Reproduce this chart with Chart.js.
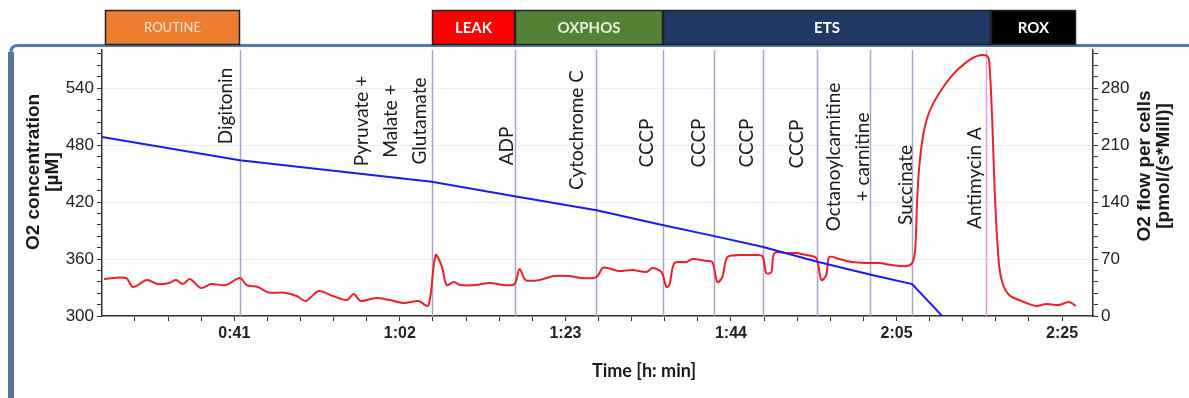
<!DOCTYPE html>
<html><head><meta charset="utf-8">
<script src="https://cdn.jsdelivr.net/npm/chart.js@4.4.1/dist/chart.umd.min.js"></script>
<style>html,body{margin:0;padding:0;background:#fff;overflow:hidden}canvas{display:block}</style>
</head><body>
<canvas id="c" width="1189" height="398"></canvas>
<script>
// ---------- data ----------
const blueTimes  = [24.3, 41.7, 65.91, 76.38, 86.72, 95.04, 101.6, 107.65, 114.6, 121.5, 126.57, 130.6];
const blueValues = [488.5, 464.0, 441.2, 426.1, 411.4, 395.7, 384.1, 372.8, 357.1, 343.1, 333.6, 297.9];

const redTimes = [24.55, 27.33, 28.21, 29.97, 31.36, 32.75, 33.63, 34.51, 35.4, 36.78, 38.05, 39.94, 41.7, 42.58, 43.97, 45.36, 47.12, 48.89, 50.03, 51.66, 53.43, 55.2, 56.08, 56.96, 58.85, 60.62, 62.38, 64.27, 65.41, 65.79, 66.42, 67.18, 67.81, 68.69, 69.57, 71.46, 73.23, 75.0, 76.38, 77.01, 77.77, 79.53, 81.3, 83.19, 84.96, 86.72, 87.6, 89.5, 91.26, 93.03, 93.78, 94.92, 95.55, 95.93, 96.56, 98.07, 98.83, 100.6, 101.35, 101.98, 102.61, 103.24, 104.75, 106.39, 107.65, 108.16, 108.79, 109.17, 110.68, 111.94, 113.2, 114.46, 115.1, 115.73, 116.1, 117.37, 119.0, 120.77, 122.41, 124.05, 125.82, 126.57, 126.95, 127.2, 127.46, 127.96, 128.72, 129.98, 131.62, 133.38, 134.64, 135.9, 136.28, 136.66, 137.04, 137.54, 138.05, 138.8, 140.06, 142.2, 143.47, 145.1, 146.37, 147.25];
const redValues = [45.4, 46.6, 35.6, 44.2, 39.2, 40.5, 44.2, 39.2, 45.4, 34.3, 39.2, 38.0, 46.6, 38.0, 35.6, 28.8, 28.8, 24.5, 18.4, 30.7, 24.5, 19.6, 27.0, 18.4, 22.1, 19.6, 15.9, 18.4, 12.3, 27.0, 74.8, 61.3, 38.0, 41.7, 38.0, 38.0, 40.5, 38.0, 39.2, 57.6, 44.2, 44.2, 49.1, 49.1, 46.6, 47.8, 59.5, 55.2, 56.4, 54.0, 58.9, 54.0, 35.6, 38.0, 65.0, 66.2, 69.9, 67.5, 66.2, 41.7, 47.8, 72.4, 74.8, 74.8, 73.6, 52.7, 54.0, 77.3, 77.3, 77.3, 74.8, 71.1, 44.2, 50.3, 72.4, 69.9, 66.2, 65.0, 65.0, 62.5, 61.3, 65.0, 80.9, 142.3, 182.7, 222.0, 250.2, 273.5, 295.6, 311.5, 318.9, 320.1, 314.0, 244.0, 142.3, 62.5, 38.0, 25.8, 19.6, 12.3, 14.7, 13.5, 17.2, 12.3];

const eventTimes  = [41.7, 65.91, 76.38, 86.72, 95.1, 101.6, 107.8, 114.5, 121.27, 126.57, 135.9];
const eventLabels = [['Digitonin'], ['Pyruvate +', 'Malate +', 'Glutamate'], ['ADP'], ['Cytochrome C'], ['CCCP'], ['CCCP'], ['CCCP'], ['CCCP'], ['Octanoylcarnitine', '+ carnitine'], ['Succinate'], ['Antimycin A']];

const phaseNames  = ['ROUTINE', 'LEAK', 'OXPHOS', 'ETS', 'ROX'];
const phaseStarts = [24.7, 65.91, 76.38, 95.1, 136.53];
const phaseEnds   = [41.7, 76.38, 95.1, 136.53, 147.25];

const xTickValues = [41, 61.9, 82.8, 103.7, 124.6, 145.5];
const xTickLabels = ['0:41', '1:02', '1:23', '1:44', '2:05', '2:25'];
const leftTickValues  = [300, 360, 420, 480, 540];
const rightTickValues = [0, 70, 140, 210, 280];

// ---------- styles / layout ----------
const labelCenterY = [106, 121, 146, 130, 143, 143, 143, 144, 157, 185, 178];
const labelGap     = [9, 7, 3, 14, 11, 10, 11, 15, 2, 1, 6];
const eventLineColors = ['#a3a6c9','#a3a6c9','#a3a6c9','#a3a6c9','#a3a6c9','#a3a6c9','#a3a6c9','#a3a6c9','#a3a6c9','#a3a6c9','#e39be3'];
const phaseFill = ['#ED7D31', '#FF0000', '#548235', '#1F3864', '#000000'];
const phaseText = ['#fde6d4', '#ffffff', '#e4f1da', '#ffffff', '#ffffff'];
const phaseFont = ['13px Lato', 'bold 15px Lato', 'bold 15px Lato', 'bold 15px Lato', 'bold 15px Lato'];

const minorStep = (xTickValues[1] - xTickValues[0]) / 5;
const X_MIN = 24.3, X_MAX = 149.4;
const xAllTicks = [];
for (let v = xTickValues[0]; v >= X_MIN - 0.01; v -= minorStep) xAllTicks.unshift(v);
for (let v = xTickValues[0] + minorStep; v <= X_MAX + 0.01; v += minorStep) xAllTicks.push(v);

const leftAll = []; for (let v = 300; v < 580; v += 12) leftAll.push(v);
const rightAll = []; for (let v = 0; v < 326; v += 14) rightAll.push(v);

function xLabel(v) {
  for (let i = 0; i < xTickValues.length; i++) if (Math.abs(v - xTickValues[i]) < 0.3) return xTickLabels[i];
  return '';
}

const deco = {
  id: 'deco',
  beforeDraw(chart) {
    const c = chart.ctx;
    c.save();
    c.strokeStyle = '#5079ad';
    c.lineWidth = 3;
    c.beginPath();
    c.moveTo(1200, 45.5); c.lineTo(18, 45.5); c.quadraticCurveTo(11, 45.5, 11, 52); c.lineTo(11, 400);
    c.stroke();
    c.strokeStyle = '#5a7396';
    c.lineWidth = 6;
    c.beginPath(); c.moveTo(11, 52); c.lineTo(11, 400); c.stroke();
    c.restore();
  },
  beforeDatasetsDraw(chart) {
    const c = chart.ctx, a = chart.chartArea, xs = chart.scales.x;
    c.save();
    eventTimes.forEach((t, i) => {
      const px = Math.round(xs.getPixelForValue(t)) + 0.5;
      c.strokeStyle = eventLineColors[i];
      c.lineWidth = 1.5;
      c.beginPath(); c.moveTo(px, a.top); c.lineTo(px, a.bottom); c.stroke();
      const lines = eventLabels[i];
      c.save();
      c.translate(px - labelGap[i], labelCenterY[i]);
      c.rotate(-Math.PI / 2);
      c.fillStyle = '#1a1a1a';
      c.font = '19px Lato';
      c.textAlign = 'center';
      c.textBaseline = 'alphabetic';
      lines.forEach((s, k) => c.fillText(s, 0, -(lines.length - 1 - k) * 29));
      c.restore();
    });
    c.restore();
  },
  afterDraw(chart) {
    const c = chart.ctx, xs = chart.scales.x;
    c.save();
    phaseNames.forEach((n, i) => {
      const x0 = Math.round(xs.getPixelForValue(phaseStarts[i]));
      const x1 = Math.round(xs.getPixelForValue(phaseEnds[i]));
      c.fillStyle = phaseFill[i];
      c.fillRect(x0, 10, x1 - x0, 35);
      c.strokeStyle = '#222';
      c.lineWidth = 1.5;
      c.strokeRect(x0 + 0.5, 10.5, x1 - x0 - 1, 34);
      c.fillStyle = phaseText[i];
      c.font = phaseFont[i];
      c.textAlign = 'center'; c.textBaseline = 'middle';
      c.fillText(n, (x0 + x1) / 2, 28);
    });
    // axis titles
    c.fillStyle = '#1a1a1a';
    c.font = 'bold 19px "Liberation Sans", Arial';
    c.textAlign = 'center'; c.textBaseline = 'middle';
    c.save(); c.translate(34, 172); c.rotate(-Math.PI / 2);
    c.fillText('O2 concentration', 0, 0); c.fillText('[\u00b5M]', 0, 19); c.restore();
    c.save(); c.translate(1145, 166); c.rotate(-Math.PI / 2);
    c.fillText('O2 flow per cells', 0, 0); c.fillText('[pmol/(s*Mill)]', 0, 19); c.restore();
    c.font = 'bold 18px Lato';
    c.fillText('Time [h: min]', 644, 371);
    c.restore();
  }
};

const tickFont = { family: '"Liberation Sans", Arial', size: 17 };
new Chart(document.getElementById('c'), {
  type: 'line',
  data: {
    datasets: [
      { label: 'O2 flow per cells', data: redTimes.map((t, i) => ({ x: t, y: redValues[i] })), yAxisID: 'y2',
        borderColor: '#e8212b', borderWidth: 2, pointRadius: 0, tension: 0.3, order: 2 },
      { label: 'O2 concentration', data: blueTimes.map((t, i) => ({ x: t, y: blueValues[i] })), yAxisID: 'y',
        borderColor: '#1b1bef', borderWidth: 2, pointRadius: 0, tension: 0, order: 1 }
    ]
  },
  options: {
    responsive: false, animation: false, devicePixelRatio: 1,
    layout: { padding: { top: 50, left: 0, right: 0, bottom: 0 } },
    plugins: { legend: { display: false }, tooltip: { enabled: false } },
    scales: {
      x: {
        type: 'linear', min: X_MIN, max: X_MAX,
        afterBuildTicks: s => { s.ticks = xAllTicks.map(v => ({ value: v })); },
        afterFit: s => { s.height = 82; },
        grid: { drawOnChartArea: false, tickLength: 5, tickColor: '#333' },
        border: { color: '#333', width: 1.5 },
        ticks: { autoSkip: false, maxRotation: 0, padding: 3, color: '#222',
          font: { family: '"Liberation Sans", Arial', size: 16, weight: 'bold' }, callback: v => xLabel(v) }
      },
      y: {
        position: 'left', min: 300, max: 580,
        afterBuildTicks: s => { s.ticks = leftAll.map(v => ({ value: v })); },
        afterFit: s => { s.width = 102; },
        grid: { color: ctx => leftTickValues.includes(ctx.tick && ctx.tick.value) ? '#ececec' : 'rgba(0,0,0,0)', tickColor: '#333', tickLength: 5 },
        border: { color: '#333', width: 1.5 },
        ticks: { autoSkip: false, padding: 3, color: '#222', font: tickFont, callback: v => leftTickValues.includes(v) ? String(v) : '' }
      },
      y2: {
        position: 'right', min: 0, max: 326.67,
        afterBuildTicks: s => { s.ticks = rightAll.map(v => ({ value: v })); },
        afterFit: s => { s.width = 96; },
        grid: { drawOnChartArea: false, tickColor: '#333', tickLength: 5 },
        border: { color: '#333', width: 1.5 },
        ticks: { autoSkip: false, padding: 3, color: '#222', font: tickFont, callback: v => rightTickValues.includes(v) ? String(v) : '' }
      }
    }
  },
  plugins: [deco]
});
</script>
</body></html>
